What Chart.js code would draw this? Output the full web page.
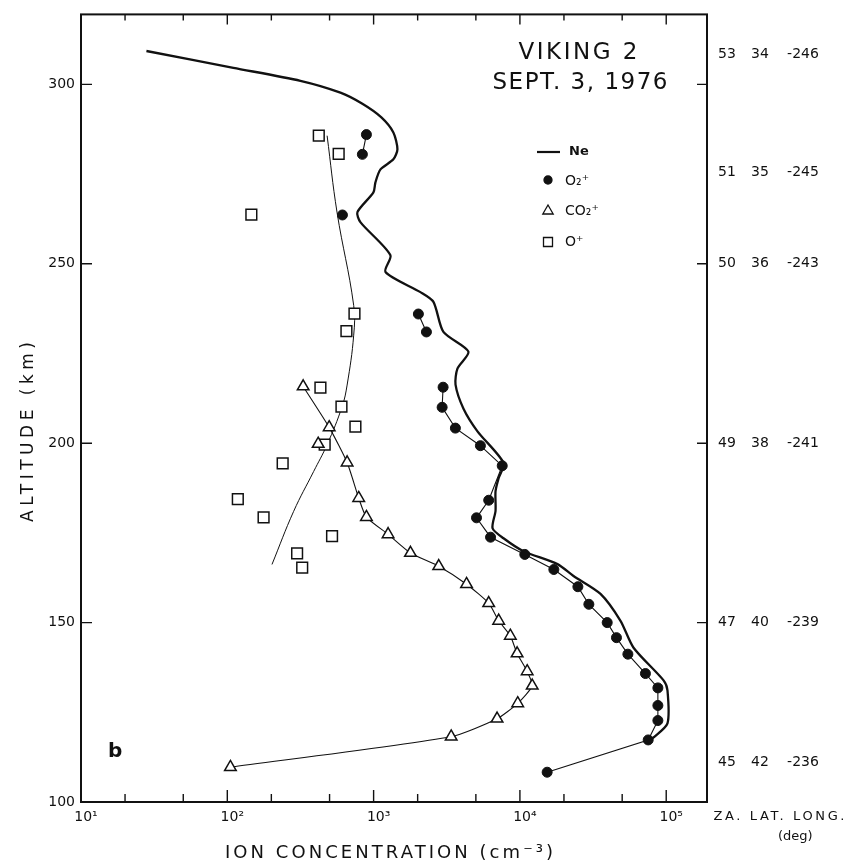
<!DOCTYPE html>
<html>
<head>
<meta charset="utf-8">
<script src="https://cdn.jsdelivr.net/npm/chart.js@4.4.0/dist/chart.umd.min.js"></script>
<style>
  html, body { margin: 0; padding: 0; background: #fff; }
  #wrap { width: 861px; height: 864px; }
</style>
</head>
<body>
<div id="wrap"><canvas id="ionChart"></canvas></div>
<script>
// electron density Ne (altitude km, cm^-3)
const neAlt  = [309.3, 304.6, 301.0, 297.7, 294.6, 290.8, 286.6, 281.9, 279.1, 276.3, 272.7, 269.9, 264.4, 261.6, 252.4, 247.7, 242.1, 239.4, 231.0, 225.5, 220.8, 216.3, 209.6, 203.3, 194.5, 190.2, 186.6, 181.1, 176.3, 173.5, 169.9, 166.3, 163.0, 158.0, 150.5, 143.0, 133.9, 131.1, 121.9, 118.0, 117.1];
const neConc = [28, 110, 316, 593, 838, 1130, 1365, 1455, 1365, 1114, 1029, 997, 775, 812, 1303, 1205, 2089, 2564, 3000, 4446, 3741, 3630, 4115, 5128, 7727, 7145, 6813, 6813, 6501, 7727, 10570, 18060, 23240, 35560, 48700, 59800, 95900, 102000, 102000, 82000, 75800];

// O2+ (null = break in the connecting line)
const o2Alt  = [286.0, 280.5, null, 263.6, null, 236.0, 231.0, null, 215.6, 210.0, 204.2, 199.3, 193.7, 184.1, 179.2, 173.8, 169.0, 164.8, 160.0, 155.1, 150.0, 145.8, 141.2, 135.8, 131.8, 126.9, 122.7, 117.3, 108.3];
const o2Conc = [893, 838, null, 612, null, 2023, 2296, null, 2985, 2940, 3622, 5370, 7570, 6120, 5050, 6300, 10800, 17060, 24900, 29600, 39500, 45700, 54700, 72100, 87700, 87700, 87700, 75300, 15350];

// CO2+
const co2Alt  = [215.8, 204.4, 194.6, 184.7, 179.4, 174.6, 169.4, 165.7, 160.7, 155.4, 150.5, 146.3, 141.4, 136.4, 132.4, 127.5, 123.2, 118.2, 109.7, null, 199.8];
const co2Conc = [330, 497, 659, 791, 893, 1256, 1786, 2787, 4318, 6120, 7160, 8600, 9570, 11210, 12140, 9660, 6980, 3390, 105, null, 418];

// O+ measurements and the hand-drawn trend through them
const opAlt  = [285.7, 280.6, 263.7, 236.1, 231.2, 215.5, 210.2, 204.6, 199.6, 194.4, 184.4, 179.3, 174.1, 169.3, 165.3];
const opConc = [422, 577, 146, 740, 652, 433, 603, 751, 463, 239, 118, 177, 520, 300, 325];
const opFitAlt  = [285.7, 264.4, 238.4, 230.1, 216.2, 210.2, 199.6, 192.1, 181.0, 166.2];
const opFitConc = [481, 562, 731, 731, 659, 609, 481, 389, 284, 202];

// axes
const xTickValues = [10, 100, 1000, 10000, 100000];
const xTickLabels = ['10¹', '10²', '10³', '10⁴', '10⁵'];
const yTickValues = [100, 150, 200, 250, 300];

// spacecraft geometry on the right side
const geoAlt  = [308.5, 275.5, 250, 200, 150, 111];
const geoZA   = ['53', '51', '50', '49', '47', '45'];
const geoLat  = ['34', '35', '36', '38', '40', '42'];
const geoLong = ['-246', '-245', '-243', '-241', '-239', '-236'];

const toPoints = (alt, conc) => alt.map((a, i) => ({
  x: conc[i] === null ? NaN : conc[i],
  y: a === null ? NaN : a
}));

const FONT = '"DejaVu Sans", sans-serif';
const INK = '#111';

function spaced(ctx, text, cx, cy, width) {
  ctx.letterSpacing = '0px';
  const w0 = ctx.measureText(text).width;
  const n = [...text].length;
  const ls = n > 1 ? (width - w0) / (n - 1) : 0;
  ctx.letterSpacing = ls + 'px';
  ctx.textAlign = 'left';
  ctx.fillText(text, cx - width / 2, cy);
  ctx.letterSpacing = '0px';
}

function marker(ctx, style, x, y, r, fill) {
  ctx.beginPath();
  if (style === 'circle') {
    ctx.arc(x, y, r, 0, Math.PI * 2);
  } else if (style === 'triangle') {
    ctx.moveTo(x, y - r);
    ctx.lineTo(x + r * 0.866, y + r * 0.5);
    ctx.lineTo(x - r * 0.866, y + r * 0.5);
    ctx.closePath();
  } else {
    ctx.rect(x - r, y - r, 2 * r, 2 * r);
  }
  ctx.fillStyle = fill;
  ctx.fill();
  ctx.stroke();
}

const decorations = {
  id: 'decorations',
  afterDatasetsDraw(chart) {
    const { ctx, chartArea: a, scales: { x, y } } = chart;
    ctx.save();
    ctx.strokeStyle = INK;
    ctx.fillStyle = INK;

    // frame
    ctx.lineWidth = 2;
    ctx.strokeRect(a.left, a.top, a.right - a.left, a.bottom - a.top);

    // inside ticks
    ctx.lineWidth = 1.4;
    ctx.beginPath();
    for (let d = 1; d <= 5; d++) {
      [1, 2, 5].forEach(m => {
        const v = m * Math.pow(10, d);
        if (v <= x.min || v >= x.max) return;
        const px = x.getPixelForValue(v);
        const len = m === 1 ? 12 : 8;
        ctx.moveTo(px, a.bottom); ctx.lineTo(px, a.bottom - len);
        ctx.moveTo(px, a.top); ctx.lineTo(px, a.top + len - 2);
      });
    }
    yTickValues.forEach(v => {
      if (v <= y.min) return;
      const py = y.getPixelForValue(v);
      ctx.moveTo(a.left, py); ctx.lineTo(a.left + 11, py);
      ctx.moveTo(a.right, py); ctx.lineTo(a.right - 10, py);
    });
    ctx.stroke();

    // title block
    ctx.textBaseline = 'middle';
    ctx.font = '23px ' + FONT;
    spaced(ctx, 'VIKING 2', 578, 53, 119);
    spaced(ctx, 'SEPT. 3, 1976', 580, 83, 175);

    // legend
    ctx.lineWidth = 2.2;
    ctx.beginPath(); ctx.moveTo(537, 152); ctx.lineTo(560, 152); ctx.stroke();
    ctx.lineWidth = 1.3;
    marker(ctx, 'circle', 548, 180, 4, INK);
    marker(ctx, 'triangle', 548, 211, 6, '#fff');
    marker(ctx, 'rect', 548, 242, 4.5, '#fff');
    ctx.fillStyle = INK;
    ctx.textAlign = 'left';
    ctx.font = 'bold 13px ' + FONT;
    ctx.fillText('Ne', 569, 152);
    ctx.font = '14px ' + FONT;
    ctx.fillText('O₂⁺', 565, 181);
    ctx.fillText('CO₂⁺', 565, 211);
    ctx.fillText('O⁺', 565, 242);

    // panel letter
    ctx.font = 'bold 20px ' + FONT;
    ctx.fillText('b', 108, 752);

    // right side geometry columns
    ctx.font = '14px ' + FONT;
    ctx.textAlign = 'center';
    geoAlt.forEach((alt, i) => {
      const py = y.getPixelForValue(alt);
      ctx.fillText(geoZA[i], a.right + 20, py);
      ctx.fillText(geoLat[i], a.right + 53, py);
      ctx.fillText(geoLong[i], a.right + 96, py);
    });
    ctx.font = '13px ' + FONT;
    spaced(ctx, 'ZA. LAT. LONG.', 779, a.bottom + 15, 131);
    ctx.fillText('(deg)', 778, a.bottom + 35);

    // axis titles
    ctx.font = '18px ' + FONT;
    spaced(ctx, 'ION CONCENTRATION (cm⁻³)', 389, 853, 328);
    ctx.translate(29, 432);
    ctx.rotate(-Math.PI / 2);
    ctx.font = '17px ' + FONT;
    spaced(ctx, 'ALTITUDE (km)', 0, 0, 180);
    ctx.restore();
  }
};

Chart.defaults.font.family = FONT;
Chart.defaults.color = INK;

const chart = new Chart(document.getElementById('ionChart'), {
  type: 'scatter',
  data: {
    datasets: [
      {
        label: 'O2+',
        data: toPoints(o2Alt, o2Conc),
        showLine: true,
        spanGaps: false,
        borderColor: INK,
        borderWidth: 1.1,
        pointStyle: 'circle',
        pointRadius: 5,
        pointBackgroundColor: INK,
        pointBorderColor: INK,
        pointBorderWidth: 1
      },
      {
        label: 'CO2+',
        data: toPoints(co2Alt, co2Conc),
        showLine: true,
        spanGaps: false,
        tension: 0.2,
        borderColor: INK,
        borderWidth: 1.1,
        pointStyle: 'triangle',
        pointRadius: 6.7,
        pointBackgroundColor: '#fff',
        pointBorderColor: INK,
        pointBorderWidth: 1.5
      },
      {
        label: 'O+',
        data: toPoints(opAlt, opConc),
        showLine: false,
        pointStyle: 'rect',
        pointRadius: 7.6,
        pointBackgroundColor: '#fff',
        pointBorderColor: INK,
        pointBorderWidth: 1.5
      },
      {
        label: 'O+ fit',
        data: toPoints(opFitAlt, opFitConc),
        showLine: true,
        tension: 0.4,
        borderColor: INK,
        borderWidth: 1,
        pointRadius: 0
      },
      {
        label: 'Ne',
        data: toPoints(neAlt, neConc),
        showLine: true,
        tension: 0.25,
        borderColor: INK,
        borderWidth: 2.3,
        pointRadius: 0
      }
    ]
  },
  options: {
    responsive: true,
    maintainAspectRatio: false,
    animation: false,
    layout: { padding: { top: 12, left: 0, right: 0, bottom: 0 } },
    plugins: {
      legend: { display: false },
      tooltip: { enabled: false }
    },
    scales: {
      x: {
        type: 'logarithmic',
        position: 'bottom',
        min: 10,
        max: 190000,
        afterBuildTicks: s => { s.ticks = xTickValues.map(v => ({ value: v })); },
        afterFit: s => { s.height = 62; },
        grid: { display: false, drawTicks: false },
        border: { display: false },
        ticks: {
          padding: 7,
          labelOffset: 5,
          maxRotation: 0,
          autoSkip: false,
          font: { size: 14 },
          callback: (v) => xTickLabels[xTickValues.indexOf(v)] || ''
        }
      },
      y: {
        type: 'linear',
        position: 'left',
        min: 100,
        max: 319.5,
        afterBuildTicks: s => { s.ticks = yTickValues.map(v => ({ value: v })); },
        afterFit: s => { s.width = 81; },
        grid: { display: false, drawTicks: false },
        border: { display: false },
        ticks: { padding: 6, font: { size: 14 } }
      },
      geo: {
        type: 'linear',
        position: 'right',
        min: 100,
        max: 319.5,
        afterFit: s => { s.width = 154; },
        grid: { display: false, drawTicks: false },
        border: { display: false },
        ticks: { display: false }
      }
    }
  },
  plugins: [decorations]
});
</script>
</body>
</html>
